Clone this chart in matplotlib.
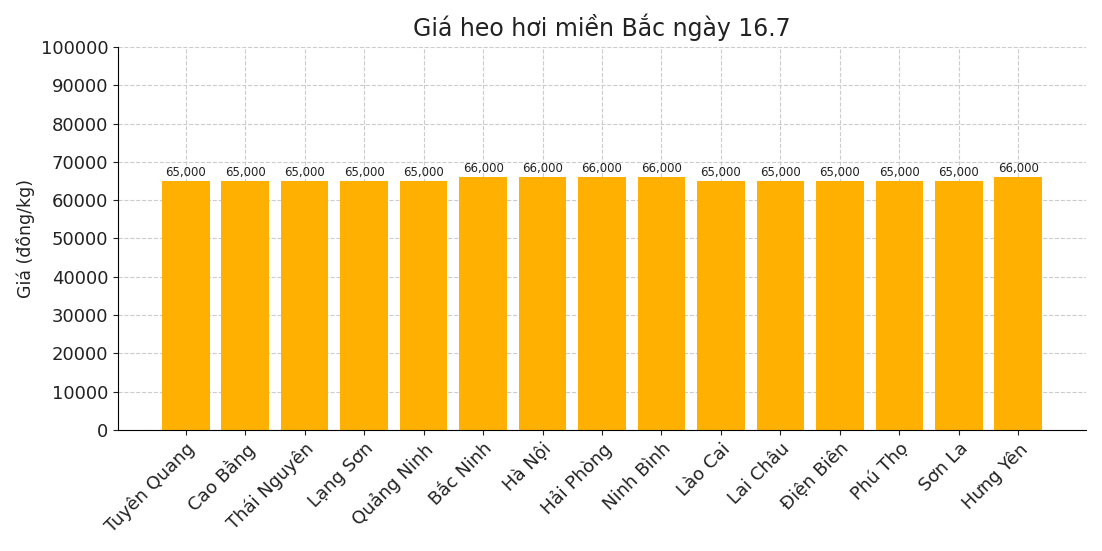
import matplotlib
matplotlib.use("Agg")
import matplotlib.pyplot as plt

provinces = ["Tuyên Quang", "Cao Bằng", "Thái Nguyên", "Lạng Sơn", "Quảng Ninh",
             "Bắc Ninh", "Hà Nội", "Hải Phòng", "Ninh Bình", "Lào Cai",
             "Lai Châu", "Điện Biên", "Phú Thọ", "Sơn La", "Hưng Yên"]
prices = [65000, 65000, 65000, 65000, 65000, 66000, 66000, 66000, 66000, 65000,
          65000, 65000, 65000, 65000, 66000]

fig = plt.figure(figsize=(11.02, 5.51), dpi=100)
ax = fig.add_axes([118/1102, 1 - 430/551, 968/1102, 383/551])

bars = ax.bar(range(len(provinces)), prices, color="#FFB000", width=0.8, zorder=2)
for b, v in zip(bars, prices):
    ax.text(b.get_x() + b.get_width()/2, v + 500, f"{v:,}", ha="center", va="bottom",
            fontsize=8.5, color="#222222")

ax.set_ylim(0, 100000)
ax.set_yticks(range(0, 100001, 10000))
ax.set_xticks(range(len(provinces)))
ax.set_xticklabels(provinces, rotation=45, ha="right", rotation_mode="anchor")
ax.tick_params(axis="both", labelsize=13, colors="#222222")
ax.grid(True, linestyle="--", color="#cccccc", linewidth=0.8, zorder=0)
ax.set_axisbelow(True)
ax.spines["top"].set_visible(False)
ax.spines["right"].set_visible(False)
ax.set_ylabel("Giá (đồng/kg)", fontsize=12.5, color="#222222")
ax.set_title("Giá heo hơi miền Bắc ngày 16.7", fontsize=17, color="#222222", pad=8)

fig.savefig("out.png", dpi=100)
